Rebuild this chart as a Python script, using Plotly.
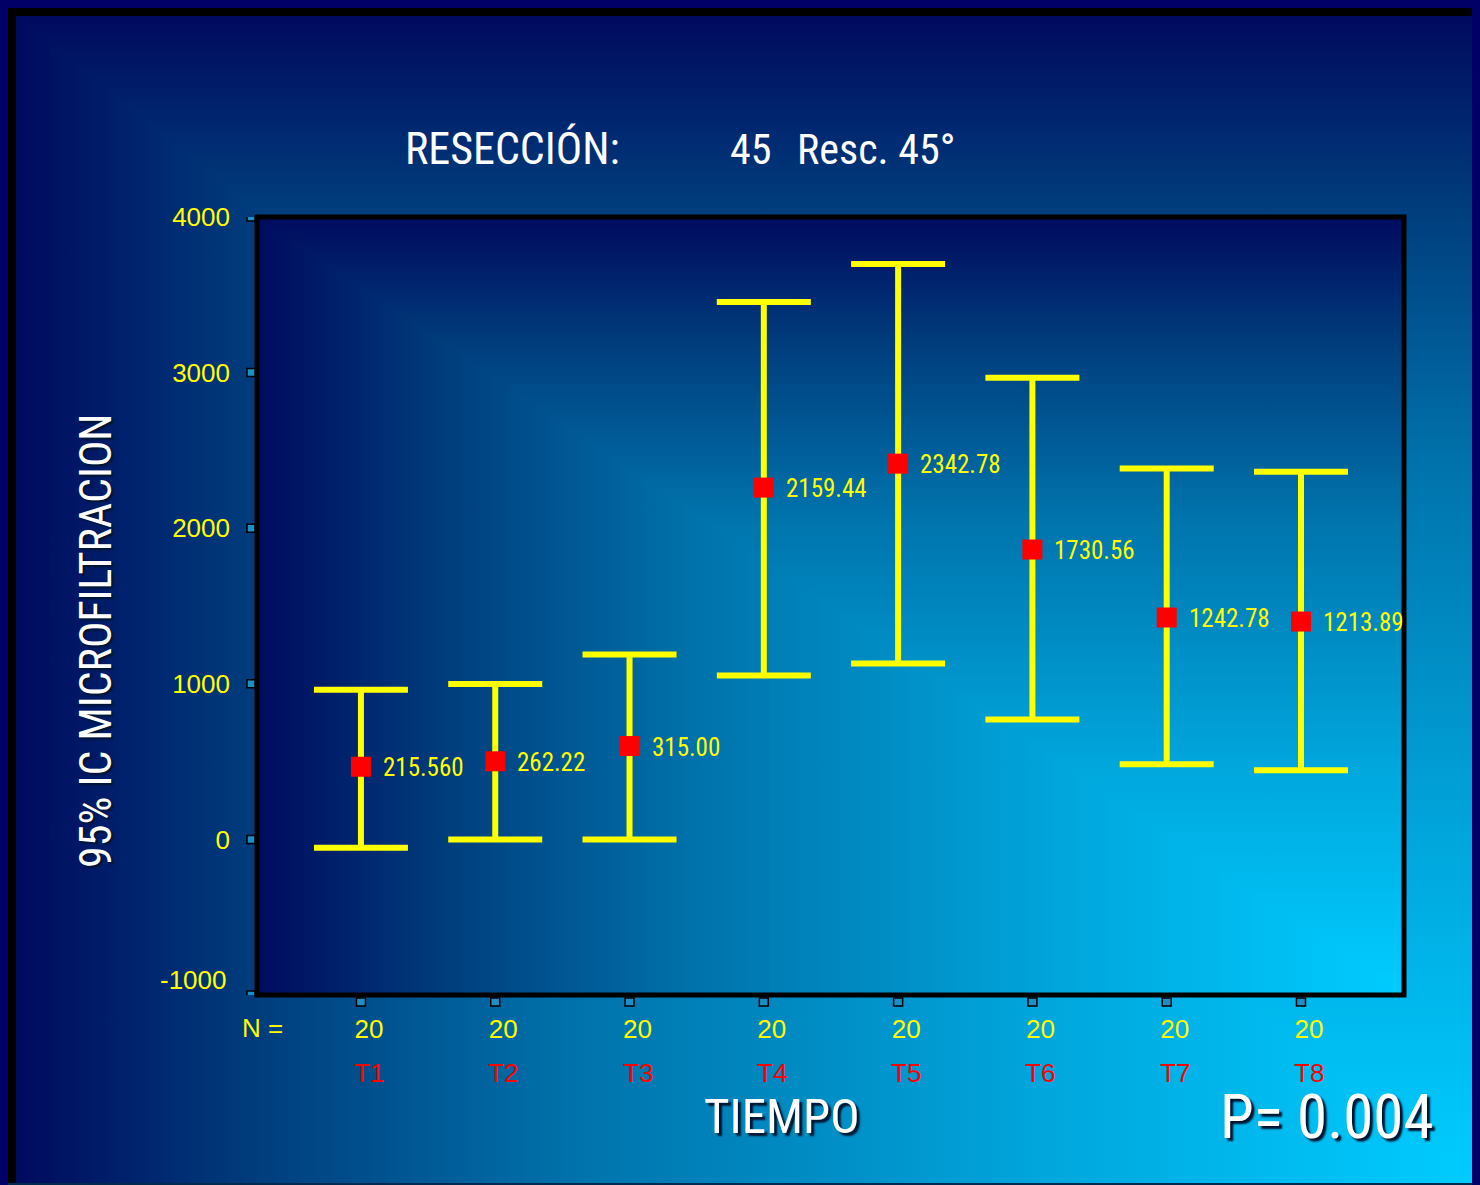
import base64
import plotly.graph_objects as go

# ---------------- data ----------------
categories = ["T1", "T2", "T3", "T4", "T5", "T6", "T7", "T8"]
n_values = [20, 20, 20, 20, 20, 20, 20, 20]
means = [467, 502, 600, 2261, 2415, 1863, 1426, 1400]
ci_lower = [-53, 0, 0, 1054, 1131, 771, 483, 444]
ci_upper = [961, 999, 1189, 3454, 3698, 2967, 2383, 2363]
value_labels = ["215.560", "262.22", "315.00", "2159.44", "2342.78",
                "1730.56", "1242.78", "1213.89"]
y_ticks = [-1000, 0, 1000, 2000, 3000, 4000]
title_left = "RESECCIÓN:"
title_mid = "45"
title_right = "Resc. 45°"
x_title = "TIEMPO"
y_title = "95% IC MICROFILTRACION"
p_text = "P= 0.004"

# ---------------- geometry ----------------
W, H = 1472, 1177          # figure size (page has an 8px body margin)
ML, MR, MT, MB = 249, 76, 209, 190
PW = W - ML - MR
PH = H - MT - MB
OFF = 8


def px_x(px):
    return (px - OFF - ML) / PW


def px_y(py):
    return 1 - (py - OFF - MT) / PH


NARROW = "Roboto Condensed, Liberation Sans Narrow, Arial Narrow, sans-serif"
SANS = "Liberation Sans, Arial, Helvetica, sans-serif"
YELLOW = "#ffff00"
RED = "#ff0000"

ramp = [(0.0, "#00ccff"), (0.30, "#00a6dc"), (0.62, "#0072ab"),
        (0.84, "#003c7c"), (1.0, "#000a5e")]


def corner_svg(w, h, x0=0, y0=0, extra_top=""):
    gw, gh = w - x0, h - y0
    stops = "".join(
        f'<stop offset="{1 - t:.3f}" stop-color="{c}"/>' for t, c in reversed(ramp)
    )
    svg = (
        f'<svg xmlns="http://www.w3.org/2000/svg" width="{w}" height="{h}" '
        f'viewBox="0 0 {w} {h}" preserveAspectRatio="none">'
        f'<defs>'
        f'<linearGradient id="gh" gradientUnits="userSpaceOnUse" x1="{x0}" y1="0" x2="{w}" y2="0">{stops}</linearGradient>'
        f'<linearGradient id="gv" gradientUnits="userSpaceOnUse" x1="0" y1="{y0}" x2="0" y2="{h}">{stops}</linearGradient>'
        f'</defs>'
        f'<rect x="{x0}" y="{y0}" width="{gw}" height="{gh}" fill="url(#gv)"/>'
        f'<polygon points="{x0},{y0} {x0},{h} {w},{h}" fill="url(#gh)"/>'
        f'{extra_top}'
        f'</svg>'
    )
    return "data:image/svg+xml;base64," + base64.b64encode(svg.encode()).decode()


outer_extra = (
    f'<rect x="0" y="0" width="{W}" height="8" fill="#000000"/>'
    f'<rect x="0" y="0" width="8" height="{H}" fill="#000000"/>'
    f'<rect x="0" y="{H - 2}" width="{W}" height="2" fill="#002a50"/>'
)
outer_src = corner_svg(W, H, 8, 8, outer_extra)
plot_src = corner_svg(PW, PH)

x_pos = list(range(len(categories)))
err_plus = [u - m for u, m in zip(ci_upper, means)]
err_minus = [m - l for m, l in zip(means, ci_lower)]

fig = go.Figure()
fig.add_trace(go.Scatter(
    x=x_pos, y=means, mode="markers",
    marker=dict(symbol="square", size=20, color=RED, line=dict(width=0)),
    error_y=dict(type="data", symmetric=False, array=err_plus, arrayminus=err_minus,
                 color=YELLOW, thickness=6, width=47),
    showlegend=False, hoverinfo="skip",
))

annotations = []
# value labels
for xi, m, lab in zip(x_pos, means, value_labels):
    annotations.append(dict(x=xi, y=m, xref="x", yref="y", text=lab, showarrow=False,
                            xanchor="left", yanchor="middle", xshift=20, yshift=-1,
                            font=dict(family=NARROW, size=25, color=YELLOW)))
# category labels (red)
for xi, c in zip(x_pos, categories):
    annotations.append(dict(x=xi, y=px_y(1073), xref="x", yref="paper", text=c,
                            showarrow=False, xanchor="center", yanchor="middle", xshift=8,
                            font=dict(family=SANS, size=26, color=RED)))
# N =
annotations.append(dict(x=px_x(262), y=px_y(1028), xref="paper", yref="paper", text="N =",
                        showarrow=False, xanchor="center", yanchor="middle",
                        font=dict(family=SANS, size=26, color=YELLOW)))
# -1000 label (drawn slightly raised as in the original)
annotations.append(dict(x=px_x(229), y=y_ticks[0], xref="paper", yref="y", text=str(y_ticks[0]),
                        showarrow=False, xanchor="right", yanchor="middle", yshift=15,
                        font=dict(family=SANS, size=26, color=YELLOW)))
# titles
annotations.append(dict(x=px_x(403), y=px_y(149), xref="paper", yref="paper", text=title_left,
                        showarrow=False, xanchor="left", yanchor="middle",
                        font=dict(family=NARROW, size=44, color="white")))
annotations.append(dict(x=px_x(728), y=px_y(149), xref="paper", yref="paper", text=title_mid,
                        showarrow=False, xanchor="left", yanchor="middle",
                        font=dict(family=NARROW, size=42, color="white")))
annotations.append(dict(x=px_x(795), y=px_y(149), xref="paper", yref="paper", text=title_right,
                        showarrow=False, xanchor="left", yanchor="middle",
                        font=dict(family=NARROW, size=42, color="white")))
annotations.append(dict(x=px_x(782), y=px_y(1116), xref="paper", yref="paper", text=x_title,
                        showarrow=False, xanchor="center", yanchor="middle",
                        font=dict(family=NARROW, size=49, color="white",
                                  shadow="3px 3px 2px #00142e")))
annotations.append(dict(x=px_x(1327), y=px_y(1117), xref="paper", yref="paper", text=p_text,
                        showarrow=False, xanchor="center", yanchor="middle",
                        font=dict(family=NARROW, size=61, color="white",
                                  shadow="3px 3px 2px #00142e")))
annotations.append(dict(x=px_x(96), y=px_y(641), xref="paper", yref="paper", text=y_title,
                        showarrow=False, xanchor="center", yanchor="middle", textangle=-90,
                        font=dict(family=NARROW, size=44, color="white",
                                  shadow="-2px 2px 2px #00142e")))

shapes = []
# plot frame
shapes.append(dict(type="rect", xref="paper", yref="paper", x0=0, x1=1, y0=0, y1=1,
                   line=dict(color="black", width=5), fillcolor="rgba(0,0,0,0)", layer="above"))
# small square tick marks on the x axis
for xi in x_pos:
    shapes.append(dict(type="rect", xref="x", yref="paper", xsizemode="pixel", ysizemode="pixel",
                       xanchor=xi, yanchor=0, x0=-4.5, x1=4.5, y0=-11, y1=-3,
                       line=dict(color="black", width=1.5), fillcolor="#1c8fc4", layer="above"))
# small square tick marks on the y axis
for v in y_ticks:
    shapes.append(dict(type="rect", xref="paper", yref="y", xsizemode="pixel", ysizemode="pixel",
                       xanchor=0, yanchor=v, x0=-10, x1=-2, y0=-4, y1=4,
                       line=dict(color="black", width=1.5), fillcolor="#1c8fc4", layer="above"))

fig.update_layout(
    width=W, height=H,
    margin=dict(l=ML, r=MR, t=MT, b=MB, pad=0),
    paper_bgcolor="#000a5e",
    plot_bgcolor="rgba(0,0,0,0)",
    showlegend=False,
    annotations=annotations,
    shapes=shapes,
    images=[
        dict(source=outer_src, xref="paper", yref="paper",
             x=px_x(OFF), y=px_y(OFF), sizex=W / PW, sizey=H / PH,
             xanchor="left", yanchor="top", sizing="stretch", layer="below"),
        dict(source=plot_src, xref="paper", yref="paper",
             x=0, y=1, sizex=1, sizey=1,
             xanchor="left", yanchor="top", sizing="stretch", layer="below"),
    ],
    xaxis=dict(range=[-0.774, 7.767], tickvals=x_pos, ticktext=[str(n) for n in n_values],
               showgrid=False, zeroline=False, showline=False, ticks="",
               tickfont=dict(family=SANS, size=26, color=YELLOW),
               ticklabelstandoff=16, ticklabelshift=8, fixedrange=True),
    yaxis=dict(range=[-1000, 4000], tickvals=y_ticks,
               ticktext=["" if v == y_ticks[0] else str(v) for v in y_ticks],
               showgrid=False, zeroline=False, showline=False, ticks="",
               tickfont=dict(family=SANS, size=26, color=YELLOW),
               ticklabelstandoff=26, fixedrange=True),
)

post = ("document.body.style.margin='8px';document.body.style.background='#000066';"
        "document.documentElement.style.overflow='hidden';document.body.style.overflow='hidden';")
fig.write_html("out.html", post_script=post, config={"displayModeBar": False})
